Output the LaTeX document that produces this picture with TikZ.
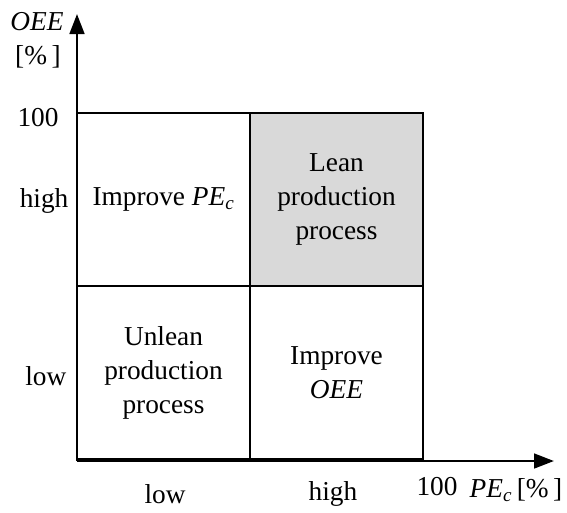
\documentclass[tikz,border=0pt]{standalone}
\usepackage{fontspec}
\setmainfont{Liberation Serif}
\usetikzlibrary{arrows.meta}
\newcommand{\pec}{\textit{PE}\textsubscript{\textit{c}}}
\begin{document}
\begin{tikzpicture}[x=0.75pt,y=-0.75pt,
  every node/.style={font=\fontsize{20.5}{25.5}\selectfont},
  cell/.style={draw=black,line width=1.6pt,minimum width=129.75pt,minimum height=129.75pt,inner sep=0pt,align=center},
  axis/.style={line width=2pt,-{Triangle[length=15pt,width=11pt]}},
  lbl/.style={inner sep=1pt}]
\useasboundingbox (0,0) rectangle (567,512);
\fill[white] (0,0) rectangle (567,512);
% cells
\node[cell] (ul) at (163.5,199.5) {Improve \pec};
\node[cell,fill={rgb,255:red,217;green,217;blue,217}] (ur) at (336.5,199.5) {Lean\\production\\process};
\node[cell] (ll) at (163.5,372.5) {Unlean\\production\\process};
\node[cell] (lr) at (336.5,372.5) {Improve\\\textit{OEE}};
% axes
\coordinate (O) at (77,461);
\coordinate (ytip) at (77,14);
\coordinate (xtip) at (554,461);
\draw[axis] (O) -- (ytip);
\draw[axis] (O) -- (xtip);
% labels
\node[lbl] (yname) at (37,22) {\textit{OEE}};
\node[lbl] (yunit) at (38,57) {[\%\,]};
\node[lbl] (y100) at (38,118) {100};
\node[lbl,anchor=east] (yhigh) at (70,201) {high};
\node[lbl,anchor=east] (ylow) at (68,376) {low};
\node[lbl] (xlow) at (165,494) {low};
\node[lbl] (xhigh) at (333,494) {high};
\node[lbl] (x100) at (437,487) {100};
\node[lbl] (xname) at (516,490) {\pec\,[\%\,]};
\end{tikzpicture}
\end{document}
